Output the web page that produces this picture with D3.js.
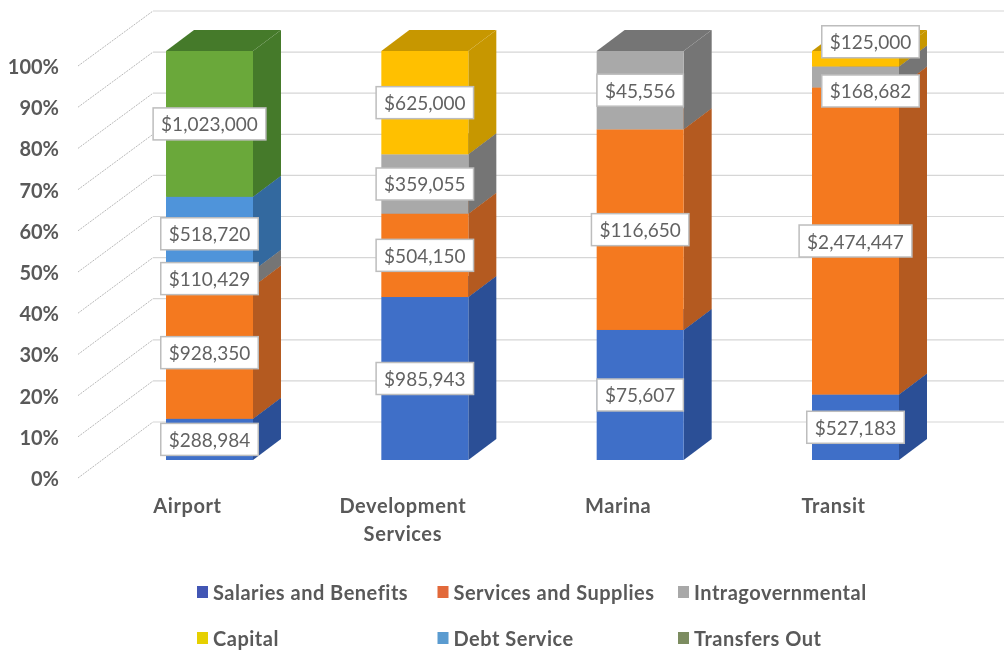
<!DOCTYPE html>
<html>
<head>
<meta charset="utf-8">
<script src="https://cdn.jsdelivr.net/npm/d3@7"></script>
<style>
  html, body { margin: 0; background: #fff; }
  svg { display: block; filter: blur(0.55px); font-family: Lato, "Open Sans", sans-serif; }
</style>
</head>
<body>
<div id="chart"></div>
<script>
const categories = ['Airport', 'Development Services', 'Marina', 'Transit'];
const seriesNames = ['Salaries and Benefits', 'Services and Supplies', 'Intragovernmental', 'Capital', 'Debt Service', 'Transfers Out'];
const salaries = [288984, 985943, 75607, 527183];
const services = [928350, 504150, 116650, 2474447];
const intragov = [110429, 359055, 45556, 168682];
const capital = [0, 625000, 0, 125000];
const debt = [518720, 0, 0, 0];
const transfers = [1023000, 0, 0, 0];
const percentTicks = [0, .1, .2, .3, .4, .5, .6, .7, .8, .9, 1];

const frontColors = ['#3f6fc8', '#f4791f', '#a9a9a9', '#ffc000', '#4f94da', '#6aa83a'];
const sideColors = ['#2b4f96', '#b45a20', '#757575', '#c79700', '#33699f', '#457a2a'];
const legendColors = ['#4256b4', '#e2693a', '#a8a8a8', '#e6d000', '#5a9bd0', '#7c8c60'];

const width = 1004, height = 652;
const depthX = 28, depthY = -21;   // bar depth on screen

const svg = d3.select('#chart').append('svg')
    .attr('width', width)
    .attr('height', height);

// Scales: bars, the left wall labels and the back wall are the same axis shifted
const x = d3.scaleBand().domain(categories).range([166, 899]).paddingInner(0.596).paddingOuter(0);
const y = d3.scaleLinear().domain([0, 1]).range([460, 51]);
const yLabel = d3.scaleLinear().domain([0, 1]).range([478, 66]);
const yBack = d3.scaleLinear().domain([0, 1]).range([422, 11]);

// Stacking
const rows = categories.map((c, i) => ({
    category: c,
    [seriesNames[0]]: salaries[i],
    [seriesNames[1]]: services[i],
    [seriesNames[2]]: intragov[i],
    [seriesNames[3]]: capital[i],
    [seriesNames[4]]: debt[i],
    [seriesNames[5]]: transfers[i]
}));
const stacked = d3.stack().keys(seriesNames).offset(d3.stackOffsetExpand)(rows);

// Back wall and left wall gridlines
svg.append('g').selectAll('line')
    .data(percentTicks)
    .join('line')
    .attr('x1', 153).attr('x2', width)
    .attr('y1', d => yBack(d)).attr('y2', d => yBack(d))
    .attr('stroke', '#d6d6d6').attr('stroke-width', 1.2);

svg.append('g').selectAll('line')
    .data(percentTicks)
    .join('line')
    .attr('x1', 78).attr('x2', 153)
    .attr('y1', d => yLabel(d)).attr('y2', d => yBack(d))
    .attr('stroke', '#b8b8b8').attr('stroke-width', 1)
    .attr('stroke-dasharray', '2 1');

// Y axis
const yAxis = svg.append('g')
    .attr('transform', 'translate(59,1)')
    .call(d3.axisLeft(yLabel).tickValues(percentTicks).tickFormat(d3.format('.0%')).tickSize(0).tickPadding(0));
yAxis.select('.domain').remove();
yAxis.selectAll('text')
    .attr('font-family', 'Lato, "Open Sans", sans-serif')
    .attr('font-size', 20).attr('font-weight', 700).attr('fill', '#595959');

// Bars
const bars = svg.append('g');
const prism = (x0, yBottom, yTop) => {
    const w = x.bandwidth();
    return {
        side: [[x0 + w, yBottom], [x0 + w + depthX, yBottom + depthY], [x0 + w + depthX, yTop + depthY], [x0 + w, yTop]],
        top: [[x0, yTop], [x0 + w, yTop], [x0 + w + depthX, yTop + depthY], [x0 + depthX, yTop + depthY]]
    };
};
const pts = p => p.join(' ');

stacked.forEach((layer, s) => {
    layer.forEach((d, i) => {
        if (d[1] - d[0] <= 0) return;
        const x0 = x(categories[i]);
        const p = prism(x0, y(d[0]), y(d[1]));
        bars.append('polygon').attr('points', pts(p.side)).attr('fill', sideColors[s]);
        bars.append('polygon').attr('points', pts(p.top)).attr('fill', sideColors[s]);
        bars.append('rect')
            .attr('x', x0).attr('y', y(d[1]))
            .attr('width', x.bandwidth()).attr('height', y(d[0]) - y(d[1]))
            .attr('fill', frontColors[s]);
    });
});

// Value labels, two of them were dragged clear of the bar in the original
const labelNudge = { 'Transit|Capital': [15, -17], 'Transit|Intragovernmental': [15, 14] };
const money = d3.format('$,');
const labels = svg.append('g');
stacked.forEach((layer, s) => {
    layer.forEach((d, i) => {
        const value = d.data[layer.key];
        if (!value) return;
        const nudge = labelNudge[categories[i] + '|' + layer.key] || [0, 0];
        const cx = x(categories[i]) + x.bandwidth() / 2 + nudge[0];
        const cy = (y(d[0]) + y(d[1])) / 2 + nudge[1];
        const g = labels.append('g');
        const t = g.append('text')
            .attr('x', cx).attr('y', cy)
            .attr('text-anchor', 'middle').attr('dominant-baseline', 'central')
            .attr('font-size', 19).attr('fill', '#626262')
            .text(money(value));
        const bw = t.node().getComputedTextLength() + 16;
        g.insert('rect', 'text')
            .attr('x', cx - bw / 2).attr('y', cy - 16)
            .attr('width', bw).attr('height', 32)
            .attr('fill', '#fff').attr('stroke', '#bdbdbd').attr('stroke-width', 1.5);
    });
});

// Category labels
const xAxis = svg.append('g')
    .attr('transform', 'translate(-22,0)')
    .selectAll('text')
    .data(categories)
    .join('text')
    .attr('text-anchor', 'middle')
    .attr('font-size', 20).attr('font-weight', 700).attr('fill', '#595959')
    .attr('letter-spacing', 0.6);
xAxis.each(function(d) {
    const cx = x(d) + x.bandwidth() / 2;
    d.split(' ').forEach((word, i) => {
        d3.select(this).append('tspan')
            .attr('x', cx).attr('y', 513 + i * 28)
            .text(word);
    });
});

// Legend
const legendX = d3.scalePoint().domain([0, 1, 2]).range([197, 678]);
const legendY = d3.scalePoint().domain([0, 1]).range([592, 638]);
const legend = svg.append('g').selectAll('g')
    .data(seriesNames)
    .join('g')
    .attr('transform', (d, i) => `translate(${legendX(i % 3)},${legendY(Math.floor(i / 3))})`);
legend.append('rect')
    .attr('x', 0).attr('y', -6)
    .attr('width', 11).attr('height', 12)
    .attr('fill', (d, i) => legendColors[i]);
legend.append('text')
    .attr('x', 16).attr('y', 0)
    .attr('dominant-baseline', 'central')
    .attr('font-size', 20).attr('font-weight', 700).attr('fill', '#595959')
    .attr('letter-spacing', 0.5)
    .text(d => d);
</script>
</body>
</html>
